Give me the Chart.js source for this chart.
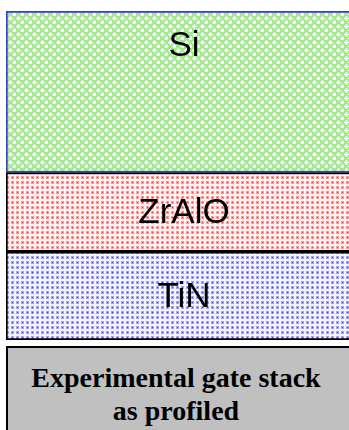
<!DOCTYPE html>
<html>
<head>
<meta charset="utf-8">
<script src="https://cdn.jsdelivr.net/npm/chart.js@4"></script>
<style>
  html, body { margin: 0; padding: 0; background: #fff; overflow: hidden; }
  #wrap { position: absolute; left: 0; top: 0; width: 362px; height: 341px; }
  #caption {
    position: absolute; left: 6px; top: 346px; width: 360px; height: 100px;
    background: #c0c0c0; border: 2px solid #000;
    font-family: "Liberation Serif", "Times New Roman", serif; font-weight: bold;
    font-size: 28px; line-height: 33px; text-align: center; color: #000;
    padding: 13px 20px 0 0; box-sizing: border-box;
  }
</style>
</head>
<body>
<div id="wrap"><canvas id="myChart"></canvas></div>
<div id="caption">Experimental gate stack<br>as profiled</div>
<script>
(() => {
  'use strict'

  // layers from bottom to top, thickness in arbitrary units
  const layers = ['TiN', 'ZrAlO', 'Si']
  const thickness = [88, 79, 161]
  const labels = ['stack']

  function pattern (size, draw) {
    const c = document.createElement('canvas')
    c.width = c.height = size
    const g = c.getContext('2d')
    draw(g)
    return g.createPattern(c, 'repeat')
  }

  const siFill = pattern(8, g => {
    g.fillStyle = '#98f27e'
    g.fillRect(0, 0, 8, 8)
    const star = (x, y) => {
      g.fillStyle = '#dcfcd0'
      g.fillRect(x - 1, y - 1, 3, 3)
      g.fillStyle = '#ffffff'
      g.fillRect(x - 2, y, 5, 1)
      g.fillRect(x, y - 2, 1, 5)
    }
    star(2, 2)
    star(6, 6)
  })

  const dots = (base, halo, core) => pattern(5, g => {
    g.fillStyle = base
    g.fillRect(0, 0, 5, 5)
    g.fillStyle = halo
    g.fillRect(1, 1, 3, 3)
    g.fillStyle = core
    g.fillRect(2, 2, 1, 1)
  })
  const zrFill = dots('#fff2f2', '#ff9a9a', '#ff3030')
  const tinFill = dots('#f2f2ff', '#a4a4f0', '#4444dc')

  const fills = [tinFill, zrFill, siFill]
  const borders = ['#000000', '#000000', '#3c3cc8']

  const layerLabels = {
    id: 'layerLabels',
    afterDatasetsDraw (chart) {
      const ctx = chart.ctx
      ctx.save()
      ctx.fillStyle = '#000'
      ctx.font = '35px "Liberation Sans", Arial, sans-serif'
      ctx.textAlign = 'center'
      ctx.textBaseline = 'middle'
      chart.data.datasets.forEach((ds, i) => {
        const el = chart.getDatasetMeta(i).data[0]
        const yMid = i === 2 ? el.y + 34 : (el.y + el.base) / 2
        ctx.fillText(ds.label, el.x, yMid + 1)
      })
      ctx.restore()
    }
  }

  const ctx = document.getElementById('myChart')
  // eslint-disable-next-line no-unused-vars
  const myChart = new Chart(ctx, {
    type: 'bar',
    data: {
      labels: labels,
      datasets: layers.map((name, i) => ({
        label: name,
        data: [thickness[i]],
        backgroundColor: fills[i],
        borderColor: borders[i],
        borderWidth: 2,
        borderSkipped: false,
        categoryPercentage: 1,
        barPercentage: 1
      }))
    },
    options: {
      responsive: true,
      maintainAspectRatio: false,
      animation: false,
      layout: { padding: { left: 6, top: 11, right: 0, bottom: 1 } },
      scales: {
        x: { stacked: true, display: false },
        y: { stacked: true, display: false, min: 0, max: thickness.reduce((a, b) => a + b, 0) }
      },
      plugins: {
        legend: { display: false },
        tooltip: { enabled: false }
      }
    },
    plugins: [layerLabels]
  })
})()
</script>
</body>
</html>
